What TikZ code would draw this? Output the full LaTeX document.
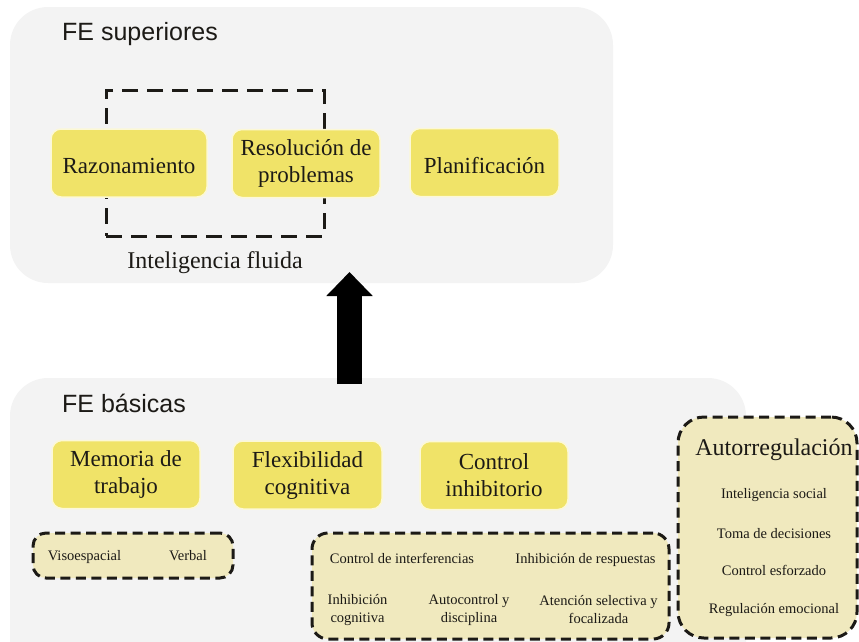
\documentclass[tikz,border=0pt]{standalone}
\usepackage{fontspec}
\setmainfont{Liberation Serif}
\newfontfamily\titlefont{Liberation Sans}
\usetikzlibrary{arrows.meta}

\definecolor{panelgray}{RGB}{243,243,243}
\definecolor{feyellow}{RGB}{240,227,104}
\definecolor{feedge}{RGB}{252,248,214}
\definecolor{subyellow}{RGB}{240,233,190}
\definecolor{ink}{RGB}{28,26,22}

\begin{document}
\begin{tikzpicture}[x=1pt, y=-1pt,
    panel/.style={fill=panelgray, rounded corners=38pt},
    fetitle/.style={text=ink, font=\titlefont\fontsize{25}{30}\selectfont, inner sep=0pt, anchor=base west},
    febox/.style={fill=feyellow, draw=feedge, line width=1.5pt, rounded corners=10pt, minimum height=68pt,
        align=center, text=ink, font=\rmfamily\fontsize{23}{27}\selectfont, inner sep=0pt,
        execute at begin node={\rule{0pt}{22pt}}},
    subbox/.style={fill=subyellow, draw=ink, line width=3pt, dash pattern=on 10pt off 5.5pt, rounded corners=13pt, inner sep=0pt},
    feitem/.style={text=ink, align=center, font=\rmfamily\fontsize{14.5}{18}\selectfont, inner sep=0pt},
    fluidlabel/.style={text=ink, font=\rmfamily\fontsize{24}{28}\selectfont, inner sep=0pt, label distance=13.5pt},
  ]
    \useasboundingbox (0,0) rectangle (859,641);
    \clip (0,0) rectangle (859,641);

    \fill[panel] (10,7) rectangle (613,283);
    \fill[panel] (10,378) rectangle (746,720);

    \node[fetitle] (supt) at (62,40) {FE superiores};
    \node[draw=ink, line width=3pt, dash pattern=on 16pt off 9pt, minimum width=218pt, minimum height=146pt,
        label={[fluidlabel]below:Inteligencia fluida}] (fluida) at (215,163) {};
    \node[febox, minimum width=156pt] (razon) at (129,163) {Razonamiento};
    \node[febox, minimum width=148pt] (resol) at (306,163.5) {Resolución de\\problemas};
    \node[febox, minimum width=149pt] (planif) at (484.5,162.5) {Planificación};

    \coordinate (arrfoot) at (349.5,384);
    \coordinate (arrtip) at (349.5,272);
    \draw[black, line width=25pt, -{Triangle[width=45pt, length=24pt]}] (arrfoot) -- (arrtip);

    \node[fetitle] (bast) at (62,412) {FE básicas};
    \node[febox, minimum width=148pt] (memoria) at (126,474.5) {Memoria de\\trabajo};
    \node[febox, minimum width=149pt] (flex) at (307.5,475) {Flexibilidad\\cognitiva};
    \node[febox, minimum width=148pt] (inhib) at (494,475.5) {Control\\inhibitorio};

    \node[subbox, minimum width=200pt, minimum height=45pt] (visobox) at (133,555.5) {};
    \node[feitem, anchor=base] (viso) at (84.5,560) {Visoespacial};
    \node[feitem, anchor=base] (verbal) at (188,560) {Verbal};

    \node[subbox, minimum width=357pt, minimum height=106pt, rounded corners=16pt] (ctrlbox) at (490.5,586) {};
    \node[feitem, anchor=base] (interf) at (402,563) {Control de interferencias};
    \node[feitem, anchor=base] (inhresp) at (585.5,563) {Inhibición de respuestas};
    \node[feitem] (inhcog) at (357.5,610) {Inhibición\\cognitiva};
    \node[feitem] (autoc) at (469,610) {Autocontrol y\\disciplina};
    \node[feitem] (atenc) at (598.5,610) {Atención selectiva y\\focalizada};

    \node[subbox, minimum width=179pt, minimum height=221pt, rounded corners=26pt] (autbox) at (767.5,527.5) {};
    \node[feitem, font=\rmfamily\fontsize{24}{28}\selectfont, anchor=base] (autreg) at (774,455) {Autorregulación};
    \node[feitem, anchor=base] (intsoc) at (774,498) {Inteligencia social};
    \node[feitem, anchor=base] (toma) at (774,538) {Toma de decisiones};
    \node[feitem, anchor=base] (cesf) at (774,575) {Control esforzado};
    \node[feitem, anchor=base] (regem) at (774,613) {Regulación emocional};
\end{tikzpicture}
\end{document}
